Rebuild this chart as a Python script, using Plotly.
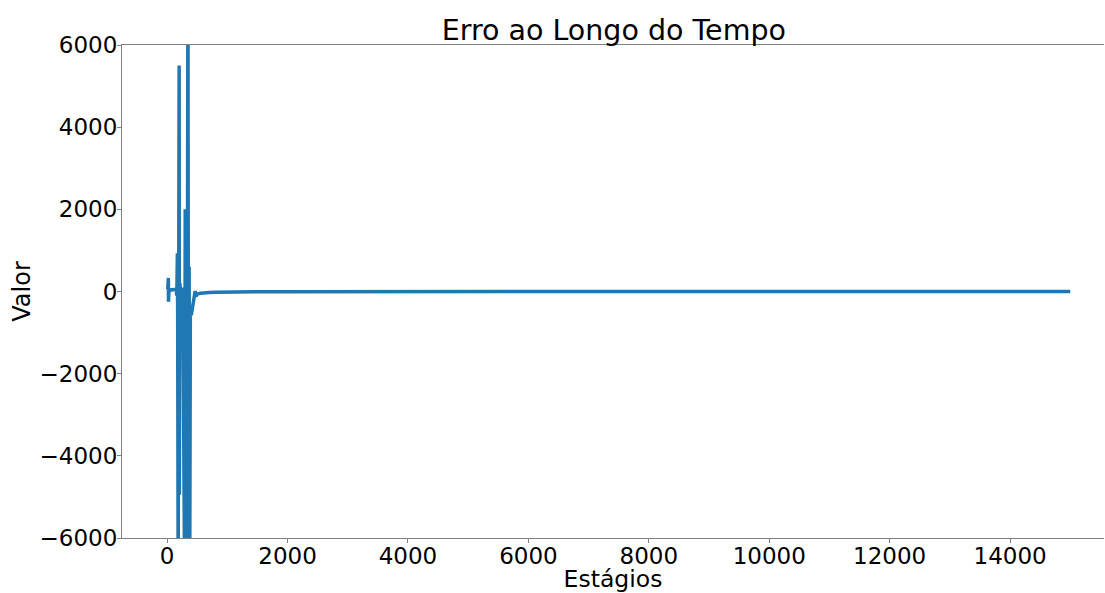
import plotly.graph_objects as go

# Stage (x) and error value (y)
stages = [0, 10, 20, 22, 25, 30, 50, 70, 90, 110, 130, 150, 160, 170, 175, 183,
          199, 203, 210, 220, 240, 260, 290, 300, 310, 320, 330, 345, 355, 365,
          375, 385, 400, 420, 440, 465, 480, 500, 550, 600, 700, 800, 1000,
          1200, 1500, 2000, 3000, 5000, 8000, 12000, 15000]
values = [60, 60, 330, -250, 40, 40, 45, 35, 40, 50, 40, 50, -100, 930, -700, -7000,
          5500, -4950, 200, 50, -150, 100, -7000, 2000, -7000, 1500, -7000, 8000, -7000, 600,
          -7000, -500, -580, -400, -250, 10, -120, -60, -45, -35, -25, -18, -12,
          -9, -6, -4, -2, -1, 0, 0, 0]

x_ticks = [0, 2000, 4000, 6000, 8000, 10000, 12000, 14000]
y_ticks = [-6000, -4000, -2000, 0, 2000, 4000, 6000]

fig = go.Figure()
fig.add_trace(go.Scatter(x=stages, y=values, mode="lines",
                         line=dict(color="#1f77b4", width=3.5),
                         showlegend=False))

axis_common = dict(showgrid=False, zeroline=False, showline=True,
                   linecolor="#808080", linewidth=1, ticks="outside", ticklen=4,
                   tickcolor="#808080", automargin=False,
                   tickfont=dict(family="DejaVu Sans", size=23, color="black"),
                   tickformat="d")

fig.update_layout(
    width=1105, height=593,
    paper_bgcolor="white", plot_bgcolor="white",
    margin=dict(l=122, r=1, t=45, b=55),
    title=dict(text="Erro ao Longo do Tempo", x=0.5555, xanchor="center",
               y=0.95, yanchor="middle",
               font=dict(family="DejaVu Sans", size=28.5, color="black")),
    xaxis=dict(range=[-750, 15560], tickvals=x_ticks, mirror=True,
               ticklabelstandoff=-7,
               title=dict(text="Estágios", standoff=14,
                          font=dict(family="DejaVu Sans", size=23.5, color="black")),
               **axis_common),
    yaxis=dict(range=[-6000, 6000], tickvals=y_ticks, mirror=False,
               ticklabelstandoff=-5,
               title=dict(text="Valor", standoff=2,
                          font=dict(family="DejaVu Sans", size=24, color="black")),
               **axis_common),
)

fig.write_html("out.html")
